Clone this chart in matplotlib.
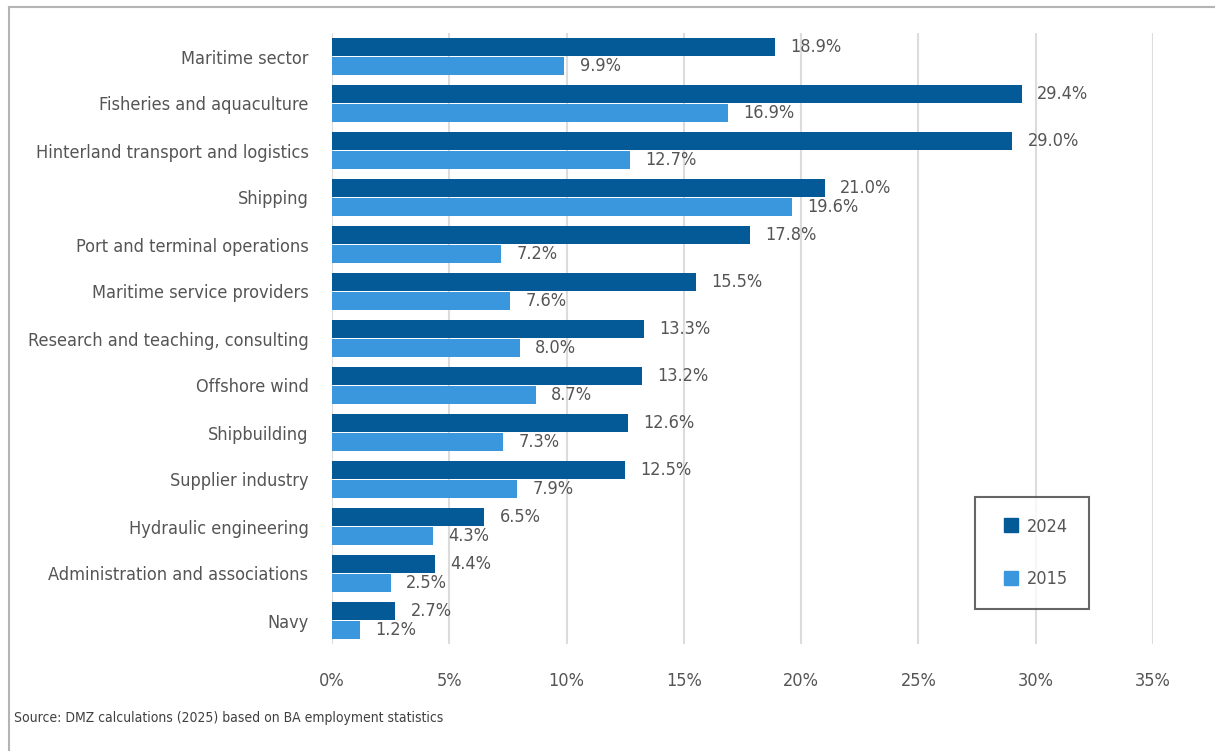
import matplotlib
matplotlib.use("Agg")
import matplotlib.pyplot as plt
from matplotlib.lines import Line2D
from matplotlib.ticker import PercentFormatter

plt.rcParams["font.family"] = ["DejaVu Sans"]
plt.rcParams["font.stretch"] = "condensed"

sectors = [
    "Maritime sector",
    "Fisheries and aquaculture",
    "Hinterland transport and logistics",
    "Shipping",
    "Port and terminal operations",
    "Maritime service providers",
    "Research and teaching, consulting",
    "Offshore wind",
    "Shipbuilding",
    "Supplier industry",
    "Hydraulic engineering",
    "Administration and associations",
    "Navy",
]
share_2024 = [18.9, 29.4, 29.0, 21.0, 17.8, 15.5, 13.3, 13.2, 12.6, 12.5, 6.5, 4.4, 2.7]
share_2015 = [9.9, 16.9, 12.7, 19.6, 7.2, 7.6, 8.0, 8.7, 7.3, 7.9, 4.3, 2.5, 1.2]
years = ["2024", "2015"]

dark = "#035A97"
light = "#3A97DE"
txt = "#555555"
fs = 13

fig = plt.figure(figsize=(12.15, 7.51), dpi=100)
ax = fig.add_axes([332 / 1215, 1 - 644 / 751, (1153 - 332) / 1215, (644 - 33) / 751])

y = list(range(len(sectors)))
h = 0.37
off = 0.205
ax.barh([i - off for i in y], share_2024, height=h, color=dark, zorder=3)
ax.barh([i + off for i in y], share_2015, height=h, color=light, zorder=3)

for i, (a, b) in enumerate(zip(share_2024, share_2015)):
    ax.annotate(f"{a:.1f}%", (a, i - off), xytext=(11, 0), textcoords="offset points",
                va="center", ha="left", fontsize=fs, color=txt)
    ax.annotate(f"{b:.1f}%", (b, i + off), xytext=(11, 0), textcoords="offset points",
                va="center", ha="left", fontsize=fs, color=txt)

ax.set_ylim(len(sectors) - 0.5, -0.5)
ax.set_xlim(0, 35)
ax.set_xticks(range(0, 36, 5))
ax.xaxis.set_major_formatter(PercentFormatter(decimals=0))
ax.set_yticks(y)
ax.set_yticklabels(sectors)
ax.tick_params(axis="both", length=0, labelsize=fs, labelcolor=txt)
ax.tick_params(axis="y", pad=17)
ax.tick_params(axis="x", pad=20)
ax.grid(axis="x", color="#dcdcdc", linewidth=1.5, zorder=0)
for s in ax.spines.values():
    s.set_visible(False)

handles = [Line2D([], [], marker="s", linestyle="none", markersize=9.5, color=c) for c in (dark, light)]
leg = fig.legend(handles, years, loc="upper left", bbox_to_anchor=(975 / 1215, 1 - 497 / 751),
                 frameon=True, fancybox=False, fontsize=fs, labelcolor=txt,
                 handlelength=1.66, handletextpad=0.05, labelspacing=1.9, borderpad=1.15,
                 borderaxespad=0)
leg.get_frame().set_edgecolor("#404040")
leg.get_frame().set_linewidth(1.5)

fig.text(14 / 1215, 1 - 718 / 751, "Source: DMZ calculations (2025) based on BA employment statistics",
         fontsize=10, color="#404040", va="center", ha="left")

# outer frame (left and top edges)
fig.add_artist(Line2D([9 / 1215, 9 / 1215], [0, 1 - 7 / 751], color="#b4b4b4", linewidth=1.5,
                      transform=fig.transFigure))
fig.add_artist(Line2D([9 / 1215, 1], [1 - 7 / 751, 1 - 7 / 751], color="#b4b4b4", linewidth=1.5,
                      transform=fig.transFigure))

fig.savefig("out.png")
